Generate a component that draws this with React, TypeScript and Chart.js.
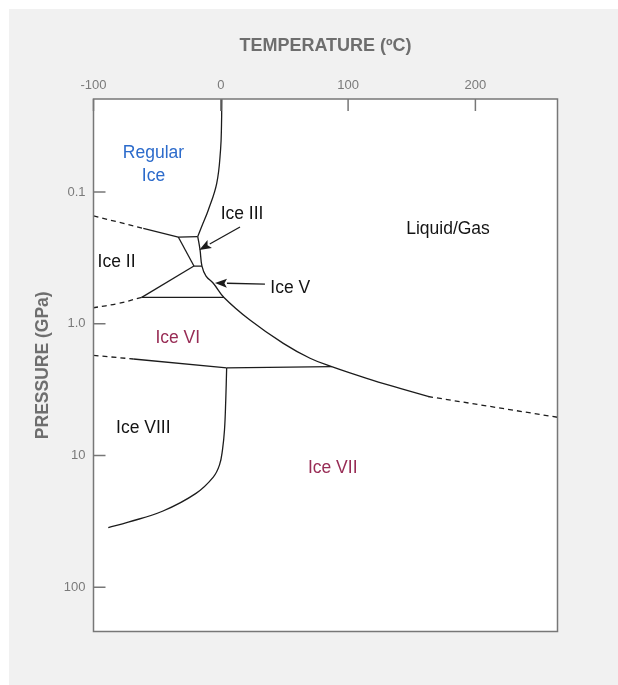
import React, { useEffect, useRef } from "react";
import { Chart, registerables } from "chart.js";

Chart.register(...registerables);

// ---- axes ----
const xRange = [-100, 264.5];
const yRange = [0.0197, 217];
const xTickValues = [-100, 0, 100, 200];
const xTickLabels = ["-100", "0", "100", "200"];
const yTickValues = [0.1, 1, 10, 100];
const yTickLabels = ["0.1", "1.0", "10", "100"];
const xTitle = "TEMPERATURE (ºC)";
const yTitle = "PRESSURE (GPa)";

// ---- phase boundaries (temperature °C, pressure GPa) ----
const iceIhMelt = [
  { x: 0.8, y: 0.019 },
  { x: 0.55, y: 0.031 },
  { x: -0.2, y: 0.048 },
  { x: -3.2, y: 0.086 },
  { x: -9.8, y: 0.137 },
  { x: -15.0, y: 0.183 },
  { x: -18.1, y: 0.218 },
];
const liquidus = [
  { x: -18.1, y: 0.218 },
  { x: -16.3, y: 0.275 },
  { x: -14.8, y: 0.365 },
  { x: -11.6, y: 0.435 },
  { x: -5.9, y: 0.493 },
  { x: 2.5, y: 0.632 },
  { x: 22.9, y: 0.938 },
  { x: 49.1, y: 1.41 },
  { x: 70.1, y: 1.83 },
  { x: 87.1, y: 2.12 },
  { x: 114.6, y: 2.6 },
  { x: 140.8, y: 3.1 },
  { x: 162.8, y: 3.57 },
];
const liquidusExtrapolated = [
  { x: 162.8, y: 3.57 },
  { x: 266, y: 5.16 },
];
const iceIhIII = [
  { x: -33.4, y: 0.22 },
  { x: -18.1, y: 0.218 },
];
const iceIhII = [
  { x: -60.9, y: 0.189 },
  { x: -33.4, y: 0.22 },
];
const iceIhIIExtrapolated = [
  { x: -100, y: 0.152 },
  { x: -60.9, y: 0.189 },
];
const iceIIIII = [
  { x: -33.4, y: 0.22 },
  { x: -21.1, y: 0.365 },
];
const iceIIIV = [
  { x: -21.1, y: 0.365 },
  { x: -14.8, y: 0.365 },
];
const iceIIV = [
  { x: -21.1, y: 0.365 },
  { x: -62.1, y: 0.631 },
];
const iceIIVExtrapolated = [
  { x: -62.1, y: 0.631 },
  { x: -80.8, y: 0.703 },
  { x: -100, y: 0.757 },
];
const iceVVI = [
  { x: -62.1, y: 0.632 },
  { x: 2.5, y: 0.632 },
];
const iceVIVIIIExtrapolated = [
  { x: -100, y: 1.738 },
  { x: -68.7, y: 1.854 },
];
const iceVIVIII = [
  { x: -68.7, y: 1.854 },
  { x: 4.6, y: 2.168 },
];
const iceVIVII = [
  { x: 4.6, y: 2.168 },
  { x: 87.1, y: 2.12 },
];
const iceVIIVIII = [
  { x: 4.6, y: 2.168 },
  { x: 3.9, y: 3.79 },
  { x: 2.9, y: 6.41 },
  { x: 1.3, y: 9.1 },
  { x: -1.0, y: 11.8 },
  { x: -5.9, y: 14.6 },
  { x: -19.5, y: 19.4 },
  { x: -45.4, y: 26.4 },
  { x: -72.7, y: 32.1 },
  { x: -88.4, y: 35.3 },
];

// ---- region labels and arrows (data coordinates) ----
const regionNames = ["Regular\nIce", "Ice III", "Liquid/Gas", "Ice II", "Ice V", "Ice VI", "Ice VIII", "Ice VII"];
const regionT = [-52.9, 16.7, 178.5, -81.9, 54.6, -33.8, -60.9, 87.9];
const regionP = [0.0618, 0.147, 0.191, 0.344, 0.538, 1.29, 6.22, 12.6];
const regionTone = ["blue", "black", "black", "black", "black", "maroon", "black", "maroon"];

const arrowFromT = [15.1, 34.7];
const arrowFromP = [0.1845, 0.5];
const arrowToT = [-16.9, -4.6];
const arrowToP = [0.2754, 0.491];

const toneColor: Record<string, string> = {
  blue: "#2c6bcb",
  black: "#141414",
  maroon: "#982c55",
};

const LINE = "#1c1c1c";

function seg(data: { x: number; y: number }[], dashed = false, tension = 0) {
  return {
    data,
    showLine: true,
    borderColor: LINE,
    borderWidth: 1.3,
    pointRadius: 0,
    pointHoverRadius: 0,
    tension,
    borderDash: dashed ? [5, 4] : [],
    fill: false,
  };
}

const decorPlugin = {
  id: "decor",
  beforeDraw(chart: any) {
    const { ctx, chartArea: a, width, height } = chart;
    ctx.save();
    ctx.fillStyle = "#ffffff";
    ctx.fillRect(0, 0, width, height);
    ctx.fillStyle = "#f1f1f1";
    ctx.fillRect(9, 9, width - 9, height - 9);
    ctx.fillStyle = "#ffffff";
    ctx.fillRect(a.left, a.top, a.right - a.left, a.bottom - a.top);
    ctx.restore();
  },
  afterDraw(chart: any) {
    const { ctx, chartArea: a, scales } = chart;
    const xs = scales.x;
    const ys = scales.y;
    ctx.save();
    // frame
    ctx.strokeStyle = "#777777";
    ctx.lineWidth = 1.5;
    ctx.strokeRect(a.left, a.top, a.right - a.left, a.bottom - a.top);
    // inward ticks
    ctx.beginPath();
    for (const t of xs.ticks) {
      const px = xs.getPixelForValue(t.value);
      ctx.moveTo(px, a.top);
      ctx.lineTo(px, a.top + 12);
    }
    for (const t of ys.ticks) {
      const py = ys.getPixelForValue(t.value);
      ctx.moveTo(a.left, py);
      ctx.lineTo(a.left + 12, py);
    }
    ctx.stroke();

    // region labels
    ctx.font = '17.5px "Liberation Sans", Arial, sans-serif';
    ctx.textAlign = "center";
    ctx.textBaseline = "middle";
    regionNames.forEach((name, i) => {
      const cx = xs.getPixelForValue(regionT[i]);
      const cy = ys.getPixelForValue(regionP[i]);
      const lines = name.split("\n");
      const lh = 23;
      ctx.fillStyle = toneColor[regionTone[i]];
      lines.forEach((ln, k) => {
        ctx.fillText(ln, cx, cy + (k - (lines.length - 1) / 2) * lh);
      });
    });

    // arrows
    ctx.strokeStyle = "#1c1c1c";
    ctx.fillStyle = "#1c1c1c";
    ctx.lineWidth = 1.3;
    arrowFromT.forEach((_, i) => {
      const x1 = xs.getPixelForValue(arrowFromT[i]);
      const y1 = ys.getPixelForValue(arrowFromP[i]);
      const x2 = xs.getPixelForValue(arrowToT[i]);
      const y2 = ys.getPixelForValue(arrowToP[i]);
      const ang = Math.atan2(y2 - y1, x2 - x1);
      const L = 12;
      const W = 4.5;
      const bx = x2 - L * Math.cos(ang);
      const by = y2 - L * Math.sin(ang);
      ctx.beginPath();
      ctx.moveTo(x1, y1);
      ctx.lineTo(bx, by);
      ctx.stroke();
      ctx.beginPath();
      ctx.moveTo(x2, y2);
      ctx.lineTo(bx + W * Math.sin(ang), by - W * Math.cos(ang));
      ctx.lineTo(bx + 2.5 * Math.cos(ang), by + 2.5 * Math.sin(ang));
      ctx.lineTo(bx - W * Math.sin(ang), by + W * Math.cos(ang));
      ctx.closePath();
      ctx.fill();
    });
    ctx.restore();
  },
};

export default function App() {
  const ref = useRef<HTMLCanvasElement>(null);
  useEffect(() => {
    const chart = new Chart(ref.current as HTMLCanvasElement, {
      type: "scatter",
      data: {
        datasets: [
          seg(iceIhMelt, false, 0.4),
          seg(liquidus, false, 0.4),
          seg(liquidusExtrapolated, true),
          seg(iceIhIII),
          seg(iceIhII),
          seg(iceIhIIExtrapolated, true),
          seg(iceIIIII),
          seg(iceIIIV),
          seg(iceIIV),
          seg(iceIIVExtrapolated, true, 0.4),
          seg(iceVVI),
          seg(iceVIVIIIExtrapolated, true),
          seg(iceVIVIII),
          seg(iceVIVII),
          seg(iceVIIVIII, false, 0.4),
        ] as any,
      },
      plugins: [decorPlugin],
      options: {
        animation: false,
        responsive: false,
        devicePixelRatio: 1,
        events: [],
        layout: { padding: { left: 0, top: 0, right: 60.5, bottom: 53.5 } },
        plugins: {
          legend: { display: false },
          tooltip: { enabled: false },
          title: { display: false },
        },
        scales: {
          x: {
            type: "linear",
            position: "top",
            min: xRange[0],
            max: xRange[1],
            grid: { display: false, drawTicks: false },
            border: { display: false },
            afterBuildTicks: (s: any) => {
              s.ticks = xTickValues.map((v) => ({ value: v }));
            },
            afterFit: (s: any) => {
              s.height = 99;
            },
            ticks: {
              autoSkip: false,
              maxRotation: 0,
              padding: 6,
              color: "#7a7a7a",
              font: { family: '"Liberation Sans", Arial, sans-serif', size: 13 },
              callback: (_v: any, i: number) => xTickLabels[i],
            },
            title: {
              display: true,
              text: xTitle,
              color: "#6e6e6e",
              font: { family: '"Liberation Sans", Arial, sans-serif', size: 18, weight: "bold" },
              padding: { top: 35.7, bottom: 0 },
            },
          },
          y: {
            type: "logarithmic",
            position: "left",
            reverse: true,
            min: yRange[0],
            max: yRange[1],
            grid: { display: false, drawTicks: false },
            border: { display: false },
            afterBuildTicks: (s: any) => {
              s.ticks = yTickValues.map((v) => ({ value: v }));
            },
            afterFit: (s: any) => {
              s.width = 93.5;
            },
            ticks: {
              autoSkip: false,
              padding: 8,
              color: "#7a7a7a",
              font: { family: '"Liberation Sans", Arial, sans-serif', size: 13 },
              callback: (_v: any, i: number) => yTickLabels[i],
            },
            title: {
              display: true,
              text: yTitle,
              color: "#6e6e6e",
              font: { family: '"Liberation Sans", Arial, sans-serif', size: 17.5, weight: "bold" },
              padding: { top: 32.5, bottom: 0 },
            },
          },
        },
      } as any,
    });
    return () => chart.destroy();
  }, []);
  return (
    <canvas
      ref={ref}
      width={618}
      height={685}
      style={{ position: "fixed", left: 0, top: 0, width: 618, height: 685 }}
    />
  );
}
